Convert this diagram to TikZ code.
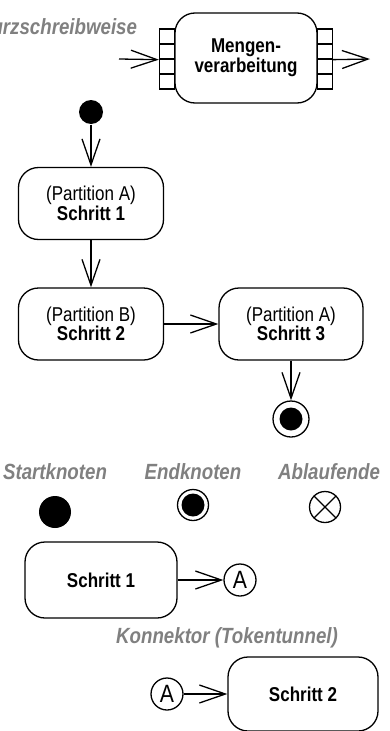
\documentclass[tikz,border=0pt]{standalone}
\usepackage{fontspec}
\setmainfont{Liberation Sans}[FakeStretch=0.85]
\usetikzlibrary{arrows.meta,positioning}
\definecolor{labelgrau}{RGB}{128,128,128}

\begin{document}
\begin{tikzpicture}[x=1pt,y=-1pt,line width=1.3pt,
  pfeil/.style={-{Straight Barb[length=26pt,width=18pt]}},
  aktion/.style={draw,rounded corners=20pt,minimum width=145pt,minimum height=72pt,
    inner sep=0pt,align=center,font=\fontsize{20}{18}\selectfont},
  pinbox/.style={draw,minimum size=15pt,inner sep=0pt},
  start/.style={circle,fill,inner sep=0pt,minimum size=#1},
  ende/.style={circle,draw,inner sep=0pt,minimum size=#1,
    path picture={\fill (path picture bounding box.center) circle (11.5pt);}},
  ablauf/.style={circle,draw,inner sep=0pt,minimum size=31pt,
    path picture={\draw (path picture bounding box.north west) -- (path picture bounding box.south east)
                        (path picture bounding box.south west) -- (path picture bounding box.north east);}},
  konnektor/.style={circle,draw,inner sep=0pt,minimum size=32pt,font=\fontsize{25}{25}\selectfont},
  titel/.style={text=labelgrau,font=\fontsize{22}{24}\selectfont\bfseries\itshape}]
  \path[use as bounding box,clip] (0,0) rectangle (390,731);

  % Kurzschreibweise
  \node[titel,anchor=east] (kurz) at (141,27) {Kurzschreibweise};
  \node[aktion,minimum width=142pt,minimum height=90pt] (mengen) at (246,58) {\textbf{Mengen-}\\\textbf{verarbeitung}};
  \foreach \i in {1,...,4} {
    \node[pinbox] (pl\i) at (167,21.5+15*\i) {};
    \node[pinbox] (pr\i) at (325,21.5+15*\i) {};
  }
  \coordinate (ein) at (119,59);
  \coordinate (aus) at (370,59);
  \draw[pfeil] (ein) -- (pl2.south west);
  \draw[pfeil] (pr2.south east) -- (aus);

  % Ablauf
  \node[start=24pt] (start) at (91,112) {};
  \node[aktion] (s1) at (91,203.5) {(Partition A)\\\textbf{Schritt 1}};
  \node[aktion] (s2) at (91,324) {(Partition B)\\\textbf{Schritt 2}};
  \node[aktion,minimum width=144pt] (s3) at (291,324) {(Partition A)\\\textbf{Schritt 3}};
  \node[ende=36pt] (ende) at (291,419) {};

  \draw[pfeil] (start) -- (s1);
  \draw[pfeil] (s1) -- (s2);
  \draw[pfeil] (s2) -- (s3);
  \draw[pfeil] (s3) -- (ende);

  % Legende
  \node[titel] (lstarttext) at (55,472) {Startknoten};
  \node[titel] (lendetext) at (193,472) {Endknoten};
  \node[titel] (lablauftext) at (329,472) {Ablaufende};
  \node[start=32pt] (lstart) at (55,512) {};
  \node[ende=31pt] (lende) at (193,505) {};
  \node[ablauf] (lablauf) at (325,507) {};

  % Konnektor
  \node[aktion,minimum width=152pt,minimum height=76pt] (b1) at (101,580) {\textbf{Schritt 1}};
  \node[konnektor] (ka1) at (240,580) {A};
  \draw[pfeil] (b1) -- (ka1);
  \node[titel] (konntext) at (227,638) {Konnektor (Tokentunnel)};
  \node[konnektor] (ka2) at (167,694) {A};
  \node[aktion,minimum width=150pt,minimum height=74pt] (b2) at (303,694) {\textbf{Schritt 2}};
  \draw[pfeil] (ka2) -- (b2);
\end{tikzpicture}
\end{document}
